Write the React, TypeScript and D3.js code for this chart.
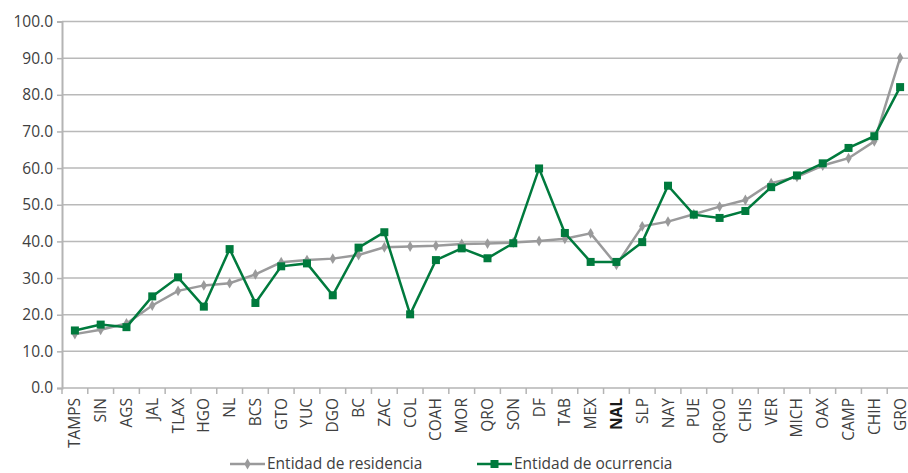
import { useEffect, useRef } from 'react';
import * as d3 from 'd3';

const states = [
  'TAMPS', 'SIN', 'AGS', 'JAL', 'TLAX', 'HGO', 'NL', 'BCS', 'GTO', 'YUC', 'DGO',
  'BC', 'ZAC', 'COL', 'COAH', 'MOR', 'QRO', 'SON', 'DF', 'TAB', 'MEX', 'NAL',
  'SLP', 'NAY', 'PUE', 'QROO', 'CHIS', 'VER', 'MICH', 'OAX', 'CAMP', 'CHIH', 'GRO',
];

const residencia = [
  14.7, 15.9, 17.6, 22.5, 26.5, 28.0, 28.6, 31.0, 34.3, 34.9, 35.3,
  36.3, 38.4, 38.6, 38.8, 39.3, 39.4, 39.7, 40.1, 40.7, 42.2, 33.6,
  44.1, 45.4, 47.4, 49.5, 51.3, 55.9, 57.6, 60.7, 62.7, 67.3, 90.1,
];

const ocurrencia = [
  15.7, 17.3, 16.6, 25.0, 30.2, 22.2, 37.9, 23.2, 33.2, 34.0, 25.3,
  38.3, 42.5, 20.1, 34.9, 38.1, 35.4, 39.5, 59.9, 42.3, 34.4, 34.4,
  39.8, 55.2, 47.3, 46.4, 48.3, 54.8, 58.0, 61.3, 65.5, 68.7, 82.1,
];

const yTicks = [0, 10, 20, 30, 40, 50, 60, 70, 80, 90, 100];

const GREEN = '#007a3d';
const GRAY = '#9a9a9b';
const TEXT = '#404040';
const FONT = '"Open Sans", "Noto Sans", sans-serif';

export default function App() {
  const svgRef = useRef<SVGSVGElement>(null);

  useEffect(() => {
    document.body.style.margin = '0';
    if (!svgRef.current) return;

    const svg = d3.select(svgRef.current);
    svg.selectAll('*').remove();

    const margin = { top: 21.5, left: 62 };
    const plotW = 851;
    const plotH = 366.5;

    const g = svg.append('g').attr('transform', `translate(${margin.left},${margin.top})`);

    const x = d3.scaleBand().domain(states).range([0, plotW]);
    const y = d3.scaleLinear().domain([0, 100]).range([plotH, 0]);

    // gridlines
    g.append('g')
      .selectAll('line')
      .data(yTicks.filter(t => t > 0))
      .enter()
      .append('line')
      .attr('x1', 0)
      .attr('x2', plotW)
      .attr('y1', d => y(d))
      .attr('y2', d => y(d))
      .attr('stroke', '#b9b9b9')
      .attr('stroke-width', 1.5);

    // Y axis
    const yAxis = g.append('g')
      .call(d3.axisLeft(y).tickValues(yTicks).tickSize(5).tickPadding(4).tickFormat(d => (d as number).toFixed(1)));
    yAxis.select('.domain').attr('stroke', '#b4b4b4').attr('stroke-width', 2);
    yAxis.selectAll('.tick line').attr('stroke', '#b4b4b4').attr('stroke-width', 1.5);
    yAxis.selectAll('text')
      .attr('fill', TEXT)
      .style('font-family', FONT)
      .style('font-size', '15.5px');

    // X axis
    const xAxis = g.append('g').attr('transform', `translate(0,${plotH})`);
    xAxis.append('line')
      .attr('x1', 0).attr('x2', plotW)
      .attr('stroke', '#b4b4b4').attr('stroke-width', 1.5);
    xAxis.selectAll('.sep')
      .data(states)
      .enter()
      .append('line')
      .attr('x1', d => x(d) || 0)
      .attr('x2', d => x(d) || 0)
      .attr('y1', 0)
      .attr('y2', 6)
      .attr('stroke', '#b4b4b4')
      .attr('stroke-width', 1.5);
    xAxis.selectAll('.lbl')
      .data(states)
      .enter()
      .append('text')
      .attr('transform', d => `translate(${(x(d) || 0) + x.bandwidth() / 2 + 5.5},10) rotate(-90)`)
      .attr('text-anchor', 'end')
      .attr('fill', d => (d === 'NAL' ? '#1a1a1a' : TEXT))
      .style('font-weight', d => (d === 'NAL' ? 'bold' : 'normal'))
      .style('font-family', FONT)
      .style('font-size', '15.5px')
      .text(d => d);

    const cx = (i: number) => (x(states[i]) || 0) + x.bandwidth() / 2;

    const line = d3.line<number>()
      .x((_, i) => cx(i))
      .y(d => y(d));

    // residencia series
    g.append('path')
      .datum(residencia)
      .attr('d', line)
      .attr('fill', 'none')
      .attr('stroke', GRAY)
      .attr('stroke-width', 2.5);
    g.selectAll('.diamond')
      .data(residencia)
      .enter()
      .append('path')
      .attr('d', d3.symbol().type(d3.symbolDiamond).size(34))
      .attr('transform', (d, i) => `translate(${cx(i)},${y(d)})`)
      .attr('fill', GRAY);

    // ocurrencia series
    g.append('path')
      .datum(ocurrencia)
      .attr('d', line)
      .attr('fill', 'none')
      .attr('stroke', GREEN)
      .attr('stroke-width', 2.5);
    g.selectAll('.square')
      .data(ocurrencia)
      .enter()
      .append('rect')
      .attr('x', (_, i) => cx(i) - 4)
      .attr('y', d => y(d) - 4)
      .attr('width', 8)
      .attr('height', 8)
      .attr('fill', GREEN);

    // legend
    const legend = svg.append('g').attr('transform', 'translate(0,464)');
    const items = [
      { name: 'Entidad de residencia', color: GRAY, x: 230, marker: 'diamond' },
      { name: 'Entidad de ocurrencia', color: GREEN, x: 477, marker: 'square' },
    ];
    items.forEach(it => {
      const li = legend.append('g').attr('transform', `translate(${it.x},0)`);
      li.append('line').attr('x1', 0).attr('x2', 35).attr('stroke', it.color).attr('stroke-width', 2.5);
      if (it.marker === 'diamond') {
        li.append('path')
          .attr('d', d3.symbol().type(d3.symbolDiamond).size(34))
          .attr('transform', 'translate(17.5,0)')
          .attr('fill', it.color);
      } else {
        li.append('rect').attr('x', 13.5).attr('y', -4).attr('width', 8).attr('height', 8).attr('fill', it.color);
      }
      li.append('text')
        .attr('x', 37)
        .attr('dy', '0.35em')
        .attr('fill', TEXT)
        .style('font-family', FONT)
        .style('font-size', '15.5px')
        .text(it.name);
    });
  }, []);

  return <svg ref={svgRef} width={908} height={473} style={{ display: 'block' }} />;
}
